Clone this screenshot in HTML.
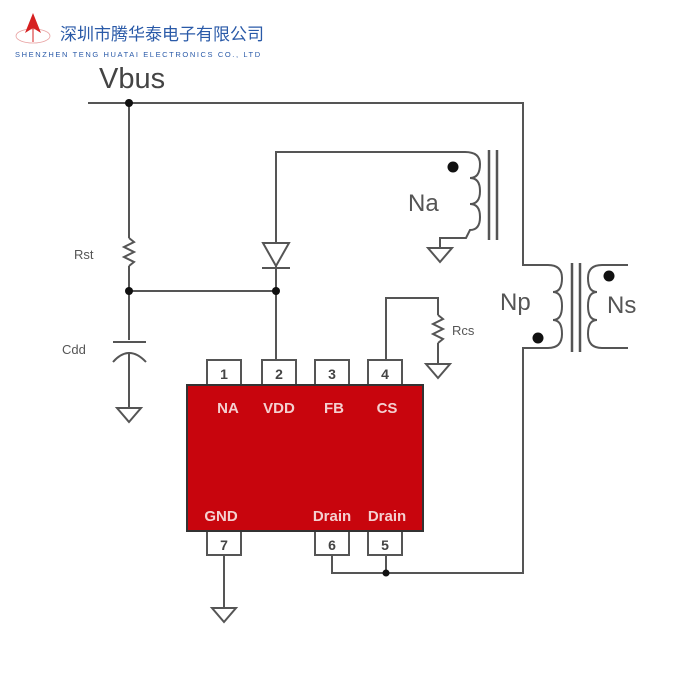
<!DOCTYPE html>
<html><head><meta charset="utf-8"><style>
html,body{margin:0;padding:0;background:#fff;width:700px;height:700px;overflow:hidden}
svg{display:block}
</style></head><body>
<svg width="700" height="700" viewBox="0 0 700 700" xmlns="http://www.w3.org/2000/svg">
<g font-family="Liberation Sans, Noto Sans CJK SC, sans-serif">
<!-- logo -->
<ellipse cx="33" cy="36" rx="17" ry="7" fill="none" stroke="#e8a0a0" stroke-width="0.8"/>
<polygon points="33,13 25,33 33,28 41,33" fill="#d62020"/>
<line x1="33" y1="28" x2="33" y2="42" stroke="#d62020" stroke-width="1"/>
<text x="60" y="40" font-size="17" fill="#2a5aa8" font-family="Noto Sans CJK SC, sans-serif">深圳市腾华泰电子有限公司</text>
<text x="15" y="57" font-size="7.5" fill="#2a5aa8" letter-spacing="1.6">SHENZHEN TENG HUATAI ELECTRONICS CO., LTD</text>
<text x="99" y="88" font-size="29" fill="#444">Vbus</text>
</g>
<g stroke="#555" stroke-width="2" fill="none">
<polyline points="88,103 523,103 523,265 548,265"/>
<polyline points="548,348 523,348 523,573 332,573 332,555"/>
<line x1="386" y1="573" x2="386" y2="555"/>
<line x1="129" y1="103" x2="129" y2="238"/>
<polyline points="129,238 134,242 124,247 134,252 124,257 134,262 129,266"/>
<line x1="129" y1="266" x2="129" y2="340"/>
<line x1="129" y1="291" x2="276" y2="291"/>
<line x1="113" y1="342" x2="146" y2="342"/>
<path d="M113,362 Q129,344 146,362"/>
<line x1="129" y1="352" x2="129" y2="408"/>
<polygon points="117,408 141,408 129,422"/>
<polyline points="276,360 276,152 465,152"/>
<polygon points="263,243 289,243 276,266" fill="#fff"/>
<line x1="262" y1="268" x2="290" y2="268"/>
<path d="M465,152 Q480,152 480,164 Q480,178 470,178 Q480,178 480,191 Q480,204 470,204 Q480,204 480,217 Q480,230 470,230 L466,238 L440,238 L440,248"/>
<polygon points="428,248 452,248 440,262"/>
<line x1="489" y1="150" x2="489" y2="240" stroke-width="2.5"/>
<line x1="497" y1="150" x2="497" y2="240" stroke-width="2.5"/>
<path d="M548,265 Q562,265 562,278 Q562,292 553,292 Q562,292 562,306 Q562,320 553,320 Q562,320 562,334 Q562,348 548,348"/>
<line x1="572" y1="263" x2="572" y2="352" stroke-width="2.5"/>
<line x1="580" y1="263" x2="580" y2="352" stroke-width="2.5"/>
<path d="M628,265 L602,265 Q588,265 588,278 Q588,292 597,292 Q588,292 588,306 Q588,320 597,320 Q588,320 588,334 Q588,348 602,348 L628,348"/>
<polyline points="386,360 386,298 438,298 438,315"/>
<polyline points="438,315 443,319 433,324 443,329 433,334 443,339 438,343"/>
<line x1="438" y1="343" x2="438" y2="364"/>
<polygon points="426,364 450,364 438,378"/>
<line x1="224" y1="555" x2="224" y2="608"/>
<polygon points="212,608 236,608 224,622"/>
</g>
<g fill="#111">
<circle cx="129" cy="103" r="4"/><circle cx="129" cy="291" r="4"/><circle cx="276" cy="291" r="4"/>
<circle cx="386" cy="573" r="3.5"/>
<circle cx="453" cy="167" r="5.5"/><circle cx="538" cy="338" r="5.5"/><circle cx="609" cy="276" r="5.5"/>
</g>
<g stroke="#555" stroke-width="2" fill="#fff">
<rect x="207" y="360" width="34" height="25"/><rect x="262" y="360" width="34" height="25"/>
<rect x="315" y="360" width="34" height="25"/><rect x="368" y="360" width="34" height="25"/>
<rect x="207" y="530" width="34" height="25"/><rect x="315" y="530" width="34" height="25"/>
<rect x="368" y="530" width="34" height="25"/>
</g>
<rect x="187" y="385" width="236" height="146" fill="#c8050d" stroke="#333" stroke-width="2"/>
<g font-family="Liberation Sans, sans-serif" font-weight="bold" text-anchor="middle">
<g font-size="14" fill="#444">
<text x="224" y="379">1</text><text x="279" y="379">2</text><text x="332" y="379">3</text><text x="385" y="379">4</text>
<text x="224" y="550">7</text><text x="332" y="550">6</text><text x="385" y="550">5</text>
</g>
<g font-size="15" fill="#f4d0d0">
<text x="228" y="413">NA</text><text x="279" y="413">VDD</text><text x="334" y="413">FB</text><text x="387" y="413">CS</text>
<text x="221" y="521">GND</text><text x="332" y="521">Drain</text><text x="387" y="521">Drain</text>
</g>
</g>
<g font-family="Liberation Sans, sans-serif" fill="#555">
<text x="74" y="259" font-size="13">Rst</text>
<text x="62" y="354" font-size="13">Cdd</text>
<text x="452" y="335" font-size="13">Rcs</text>
<text x="408" y="211" font-size="24">Na</text>
<text x="500" y="310" font-size="24">Np</text>
<text x="607" y="313" font-size="24">Ns</text>
</g>
</svg>
</body></html>
